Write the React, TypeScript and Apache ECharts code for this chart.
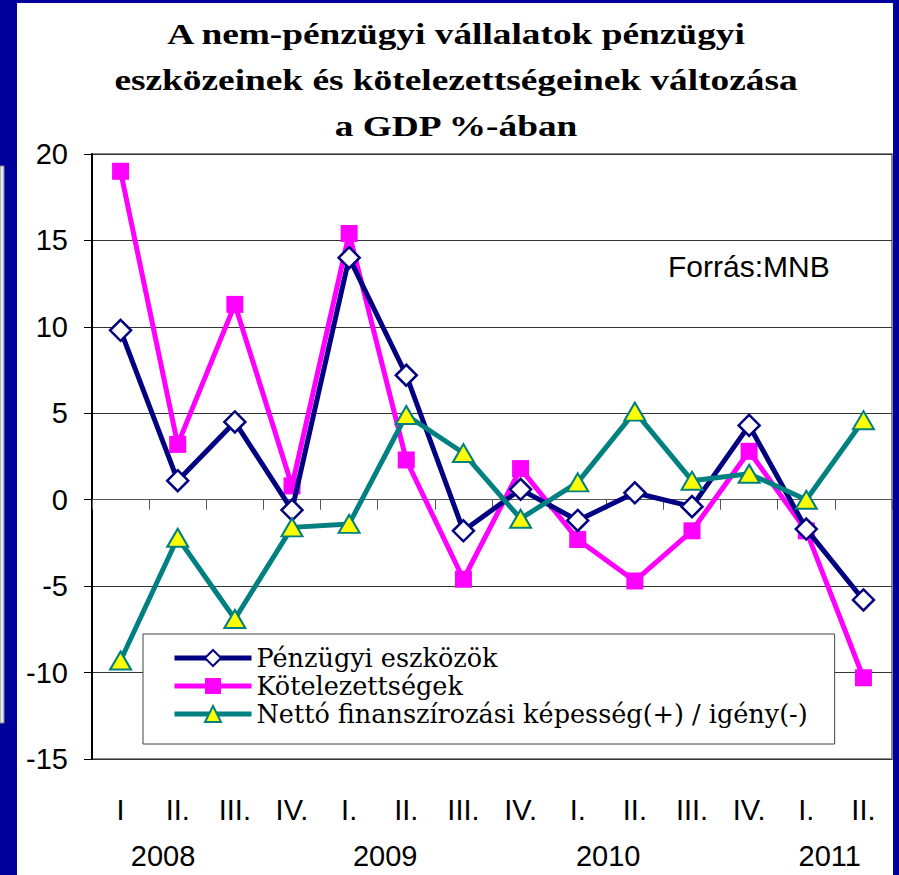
import React, { useEffect, useRef } from "react";
import * as echarts from "echarts";

const quarters = ["I", "II.", "III.", "IV.", "I.", "II.", "III.", "IV.", "I.", "II.", "III.", "IV.", "I.", "II."];
const years = ["2008", "", "", "", "2009", "", "", "", "2010", "", "", "", "2011", ""];
const assets = [9.8, 1.1, 4.5, -0.6, 14.0, 7.2, -1.8, 0.6, -1.2, 0.4, -0.4, 4.3, -1.7, -5.8];
const liabilities = [19.0, 3.2, 11.3, 0.8, 15.4, 2.3, -4.6, 1.8, -2.3, -4.7, -1.8, 2.8, -1.8, -10.3];
const netLending = [-9.3, -2.2, -6.9, -1.6, -1.4, 4.9, 2.7, -1.1, 1.0, 5.1, 1.1, 1.5, 0.0, 4.6];
const seriesNames = [
  "Pénzügyi eszközök",
  "Kötelezettségek",
  "Nettó finanszírozási képesség(+) / igény(-)",
];
const titleText = "A nem-pénzügyi vállalatok pénzügyi\neszközeinek és kötelezettségeinek változása\na GDP %-ában";
const sourceText = "Forrás:MNB";

const SANS = "Arial, 'Liberation Sans', sans-serif";
const SERIF = "'Times New Roman', 'Liberation Serif', serif";
const LEGEND_SERIF = "'DejaVu Serif', serif";

// left padding of each year label (shifts it right of its first quarter)
const yearPads = [85, 72, 61, 47];

export default function App() {
  const ref = useRef<HTMLDivElement>(null);
  useEffect(() => {
    document.body.style.margin = "0";
    const chart = echarts.init(ref.current!, undefined, { renderer: "svg" });
    const rich: Record<string, any> = {};
    yearPads.forEach((p, i) => {
      rich["y" + i] = { fontFamily: SANS, fontSize: 29, color: "#000", padding: [0, 0, 0, p] };
    });
    chart.setOption({
      animation: false,
      backgroundColor: "#00009C",
      graphic: [
        { type: "rect", z: -10, shape: { x: 17, y: 3, width: 876, height: 880 }, style: { fill: "#ffffff" } },
        { type: "rect", z: -10, shape: { x: 0, y: 166, width: 4, height: 557 }, style: { fill: "#e6e6e6", stroke: "#888", lineWidth: 1 } },
        {
          type: "text",
          x: 456,
          y: 11,
          scaleX: 1.245,
          style: {
            text: titleText,
            font: `bold 30px ${SERIF}`,
            lineHeight: 46,
            fill: "#000",
            textAlign: "center",
            textVerticalAlign: "top",
          },
        },
        {
          type: "text",
          x: 668,
          y: 266,
          style: { text: sourceText, font: `30px ${SANS}`, fill: "#000", textVerticalAlign: "middle" },
        },
      ],
      grid: { left: 92, top: 154, right: 7, bottom: 116, show: true, borderColor: "#888", borderWidth: 2, containLabel: false },
      legend: {
        orient: "vertical",
        left: 143,
        top: 634,
        padding: [10, 27, 16, 29],
        itemGap: 0,
        itemWidth: 77,
        itemHeight: 20,
        backgroundColor: "#fff",
        borderColor: "#444",
        borderWidth: 1,
        lineStyle: { width: 5 },
        textStyle: { fontFamily: LEGEND_SERIF, fontSize: 25.5, lineHeight: 28, color: "#000" },
        data: seriesNames,
      },
      xAxis: [
        {
          type: "category",
          data: quarters,
          position: "bottom",
          axisLine: { show: true, onZero: true, lineStyle: { color: "#555", width: 1 } },
          axisTick: { show: true, inside: false, length: 10, lineStyle: { color: "#555", width: 1 } },
          axisLabel: { show: false },
        },
        {
          type: "category",
          data: quarters,
          position: "bottom",
          axisLine: { show: false, onZero: false },
          axisTick: { show: false },
          axisLabel: { interval: 0, margin: 36, fontFamily: SANS, fontSize: 29, color: "#000" },
        },
        {
          type: "category",
          data: years,
          position: "bottom",
          axisLine: { show: false, onZero: false },
          axisTick: { show: false },
          axisLabel: {
            interval: 0,
            margin: 82,
            formatter: (v: string, i: number) => (v ? `{y${Math.floor(i / 4)}|${v}}` : ""),
            rich,
          },
        },
      ],
      yAxis: {
        type: "value",
        min: -15,
        max: 20,
        interval: 5,
        axisLine: { show: true, lineStyle: { color: "#000", width: 2 } },
        axisTick: { show: true, length: 8, lineStyle: { color: "#000", width: 1 } },
        axisLabel: { margin: 24, fontFamily: SANS, fontSize: 29, color: "#000" },
        splitLine: { show: true, lineStyle: { color: "#333", width: 1 } },
      },
      series: [
        {
          name: seriesNames[0],
          type: "line",
          data: assets,
          symbol: "diamond",
          symbolSize: 21,
          lineStyle: { color: "#000080", width: 5 },
          itemStyle: { color: "#ffffff", borderColor: "#000080", borderWidth: 2.5 },
          z: 3,
        },
        {
          name: seriesNames[1],
          type: "line",
          data: liabilities,
          symbol: "rect",
          symbolSize: 17,
          lineStyle: { color: "#FF00FF", width: 5 },
          itemStyle: { color: "#FF00FF", borderWidth: 0 },
          z: 2,
        },
        {
          name: seriesNames[2],
          type: "line",
          data: netLending,
          symbol: "triangle",
          symbolSize: [21, 18],
          lineStyle: { color: "#008080", width: 5 },
          itemStyle: { color: "#FFFF00", borderColor: "#008080", borderWidth: 2 },
          z: 4,
        },
      ],
    });
    return () => chart.dispose();
  }, []);
  return <div ref={ref} style={{ width: 899, height: 875 }} />;
}
